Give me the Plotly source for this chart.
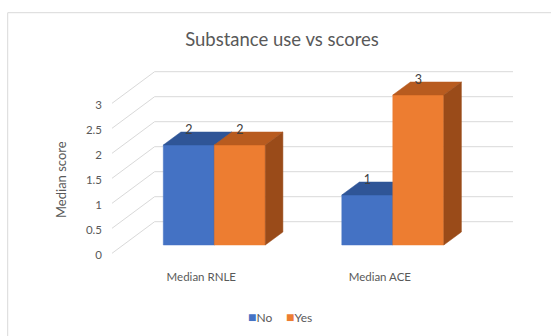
import plotly.graph_objects as go

# ---- data ----
categories = ["Median RNLE", "Median ACE"]
series_names = ["No", "Yes"]
no_values = [2, 1]
yes_values = [2, 3]
y_ticks = [0, 0.5, 1, 1.5, 2, 2.5, 3]
y_tick_labels = ["0", "0.5", "1", "1.5", "2", "2.5", "3"]
title_text = "Substance use vs scores"
y_title = "Median score"

# ---- styling / geometry (pixel-like x units, value y units) ----
W, H = 551, 336
ML, MR, MT, MB = 103, 0, 0, 68
PX_PER_UNIT = 50.0
BAR_BASE_PX = 245.0               # pixel row of bar front bottom
plot_w = W - ML - MR
plot_h = H - MT - MB
y_top = (BAR_BASE_PX - MT) / PX_PER_UNIT
y_bot = (BAR_BASE_PX - (H - MB)) / PX_PER_UNIT

FONT = "Lato, 'Liberation Sans', Arial, sans-serif"
TXT = "#595959"
GRID = "#D9D9D9"
COL = {
    "No": {"front": "#4472C4", "top": "#2F5597", "side": "#2B4E8C"},
    "Yes": {"front": "#ED7D31", "top": "#B85B1F", "side": "#9A4B19"},
}

GROUP0 = 214.3          # boundary between the two bars of first group
GROUP_STEP = 178.5
BAR_W = 51.0
DEPTH_X = 17.6
DEPTH_Y = 13.0 / PX_PER_UNIT
LABEL_SHIFT = -13.0

BACK_X0, BACK_X1 = 154.6, 513.0
BACK_OFF = (BAR_BASE_PX - 221.7) / PX_PER_UNIT
FRONT_X = 112.0
FRONT_OFF = (BAR_BASE_PX - 253.3) / PX_PER_UNIT
TICK_OFF = (BAR_BASE_PX - 255.0) / PX_PER_UNIT

LEGEND_TEXT_X = {"No": 248.0, "Yes": 286.0}   # pixel x where each legend entry starts
LEGEND_Y = 317.0
LEGEND_ICON_GAP = 40.0

fig = go.Figure()

# back wall gridlines + floor diagonals
gx, gy = [], []
for v in y_ticks:
    gx += [FRONT_X, BACK_X0, BACK_X1, None]
    gy += [v + FRONT_OFF, v + BACK_OFF, v + BACK_OFF, None]
fig.add_trace(go.Scatter(x=gx, y=gy, mode="lines", line=dict(color=GRID, width=1),
                         hoverinfo="skip", showlegend=False))

# 3D bars as polygons (painter's order)
label_x, label_y, label_t = [], [], []
for i, cat in enumerate(categories):
    b = GROUP0 + GROUP_STEP * i
    for name, vals, x0 in (("No", no_values, b - BAR_W), ("Yes", yes_values, b)):
        v = vals[i]
        x1 = x0 + BAR_W
        c = COL[name]
        faces = [
            ([x0, x1, x1, x0, x0], [0, 0, v, v, 0], c["front"]),
            ([x0, x1, x1 + DEPTH_X, x0 + DEPTH_X, x0], [v, v, v + DEPTH_Y, v + DEPTH_Y, v], c["top"]),
            ([x1, x1 + DEPTH_X, x1 + DEPTH_X, x1, x1], [0, DEPTH_Y, v + DEPTH_Y, v, 0], c["side"]),
        ]
        for fx, fy, fc in faces:
            fig.add_trace(go.Scatter(x=fx, y=fy, mode="lines", fill="toself", fillcolor=fc,
                                     line=dict(color=fc, width=0.5), hoverinfo="skip",
                                     showlegend=False))
        label_x.append((x0 + x1) / 2)
        label_y.append(v + DEPTH_Y + 0.02)
        label_t.append(str(v))

fig.add_trace(go.Scatter(x=label_x, y=label_y, text=label_t, mode="text",
                         textfont=dict(family=FONT, size=12.5, color="#404040"),
                         hoverinfo="skip", showlegend=False))

# legend entries (one legend per series so they can sit tightly together)
legend_layouts = {}
for k, name in enumerate(series_names):
    lg = "legend" if k == 0 else f"legend{k + 1}"
    fig.add_trace(go.Scatter(
        x=[None], y=[None], mode="markers", legend=lg,
        name=f"<span style='color:{COL[name]['front']};font-size:14px'>■</span>{name}",
        marker=dict(symbol="square", size=1, color="rgba(0,0,0,0)")))
    legend_layouts[lg] = dict(
        orientation="h", xanchor="left", yanchor="middle",
        x=(LEGEND_TEXT_X[name] - LEGEND_ICON_GAP - ML) / plot_w,
        y=(plot_h - LEGEND_Y) / plot_h,
        font=dict(family=FONT, size=12, color=TXT), itemwidth=30,
        bgcolor="rgba(0,0,0,0)", borderwidth=0)

tick_x = [GROUP0 + GROUP_STEP * i + LABEL_SHIFT for i in range(len(categories))]

fig.update_layout(
    width=W, height=H,
    margin=dict(l=ML, r=MR, t=MT, b=MB),
    paper_bgcolor="white", plot_bgcolor="white",
    font=dict(family=FONT, color=TXT),
    title=dict(text=title_text, x=282 / W, xref="container", xanchor="center",
               y=1 - 40 / H, yref="container", yanchor="middle",
               font=dict(family=FONT, size=18.5, color=TXT)),
    xaxis=dict(range=[ML, W - MR], showgrid=False, zeroline=False, showline=False,
               tickvals=tick_x, ticktext=categories, ticks="",
               tickfont=dict(family=FONT, size=11.5, color=TXT)),
    yaxis=dict(range=[y_bot, y_top], showgrid=False, zeroline=False, showline=False,
               tickvals=[v + TICK_OFF for v in y_ticks], ticktext=y_tick_labels, ticks="",
               tickfont=dict(family=FONT, size=11.5, color=TXT)),
    showlegend=True,
    annotations=[dict(text=y_title, textangle=-90, xref="paper", yref="paper",
                      x=(61 - ML) / plot_w, y=(plot_h - 180) / plot_h,
                      xanchor="center", yanchor="middle", showarrow=False,
                      font=dict(family=FONT, size=13, color=TXT))],
    shapes=[dict(type="rect", xref="paper", yref="paper",
                 x0=(7.7 - ML) / plot_w, x1=1.2,
                 y0=(plot_h - 12.7) / plot_h, y1=-0.5,
                 line=dict(color=GRID, width=1), layer="below")],
    **legend_layouts,
)

fig.write_html("out.html")
